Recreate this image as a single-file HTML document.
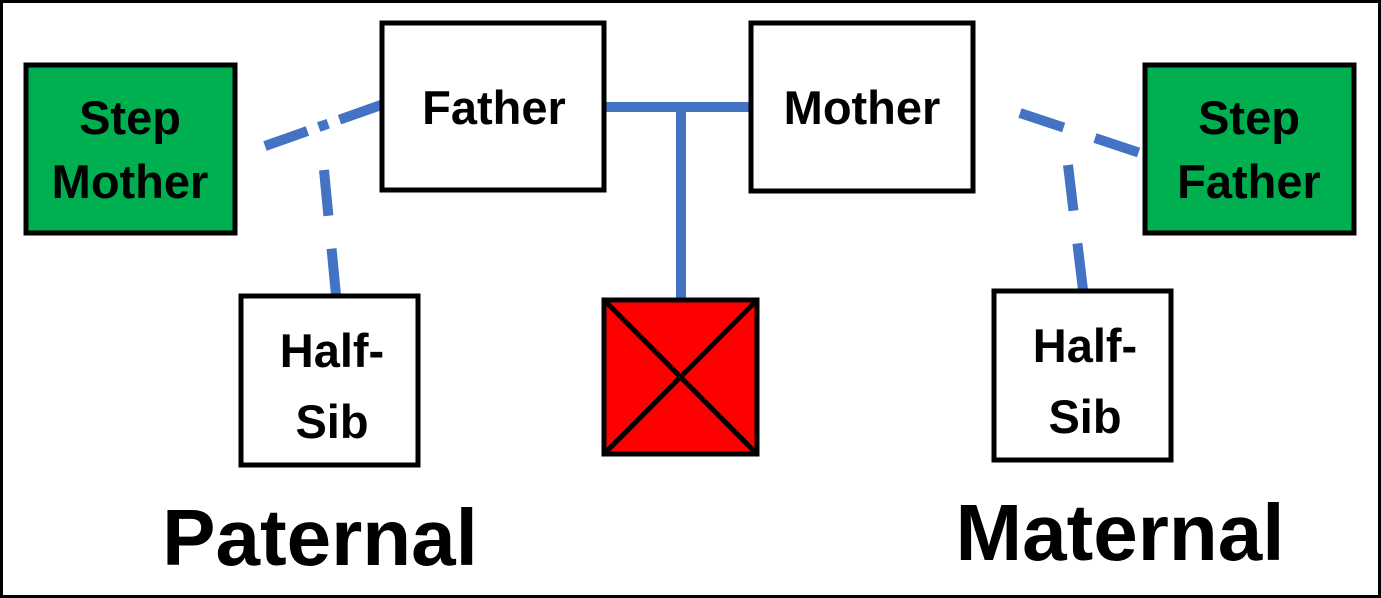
<!DOCTYPE html>
<html><head><meta charset="utf-8"><style>
html,body{margin:0;padding:0;background:#fff}
svg{display:block}
text{font-family:"Liberation Sans",sans-serif;font-weight:bold;fill:#000}
</style></head><body>
<svg width="1381" height="598" viewBox="0 0 1381 598">
<rect x="1.5" y="1.5" width="1378" height="595" fill="#fff" stroke="#000" stroke-width="3"/>
<g stroke="#4472C4" stroke-width="10" fill="none">
<line x1="605" y1="107" x2="750" y2="107"/>
<line x1="681" y1="107" x2="681" y2="300"/>
<line x1="265" y1="146" x2="381" y2="105" stroke-dasharray="45,12,10,12"/>
<line x1="324" y1="170" x2="336" y2="295" stroke-dasharray="46,33"/>
<line x1="1020" y1="113" x2="1140" y2="153" stroke-dasharray="46,33"/>
<line x1="1068" y1="165" x2="1083" y2="290" stroke-dasharray="46,33"/>
</g>
<g stroke="#000" stroke-width="5">
<rect x="26" y="65" width="209" height="168" fill="#00B050"/>
<rect x="382" y="23" width="222" height="167" fill="#fff"/>
<rect x="751" y="23" width="222" height="168" fill="#fff"/>
<rect x="1145" y="65" width="209" height="168" fill="#00B050"/>
<rect x="241" y="296" width="177" height="169" fill="#fff"/>
<rect x="994" y="291" width="177" height="169" fill="#fff"/>
<rect x="604" y="300" width="153" height="154" fill="#f00"/>
<line x1="604" y1="300" x2="757" y2="454"/>
<line x1="757" y1="300" x2="604" y2="454"/>
</g>
<g font-size="47" text-anchor="middle">
<text x="130" y="134">Step</text>
<text x="130" y="198">Mother</text>
<text x="494" y="124">Father</text>
<text x="862" y="124">Mother</text>
<text x="1249" y="134">Step</text>
<text x="1249" y="198">Father</text>
<text x="332" y="367">Half-</text>
<text x="332" y="438">Sib</text>
<text x="1085" y="362">Half-</text>
<text x="1085" y="433">Sib</text>
</g>
<text x="320" y="565" font-size="80" text-anchor="middle">Paternal</text>
<text x="1120" y="560" font-size="80" text-anchor="middle">Maternal</text>
</svg>
</body></html>
